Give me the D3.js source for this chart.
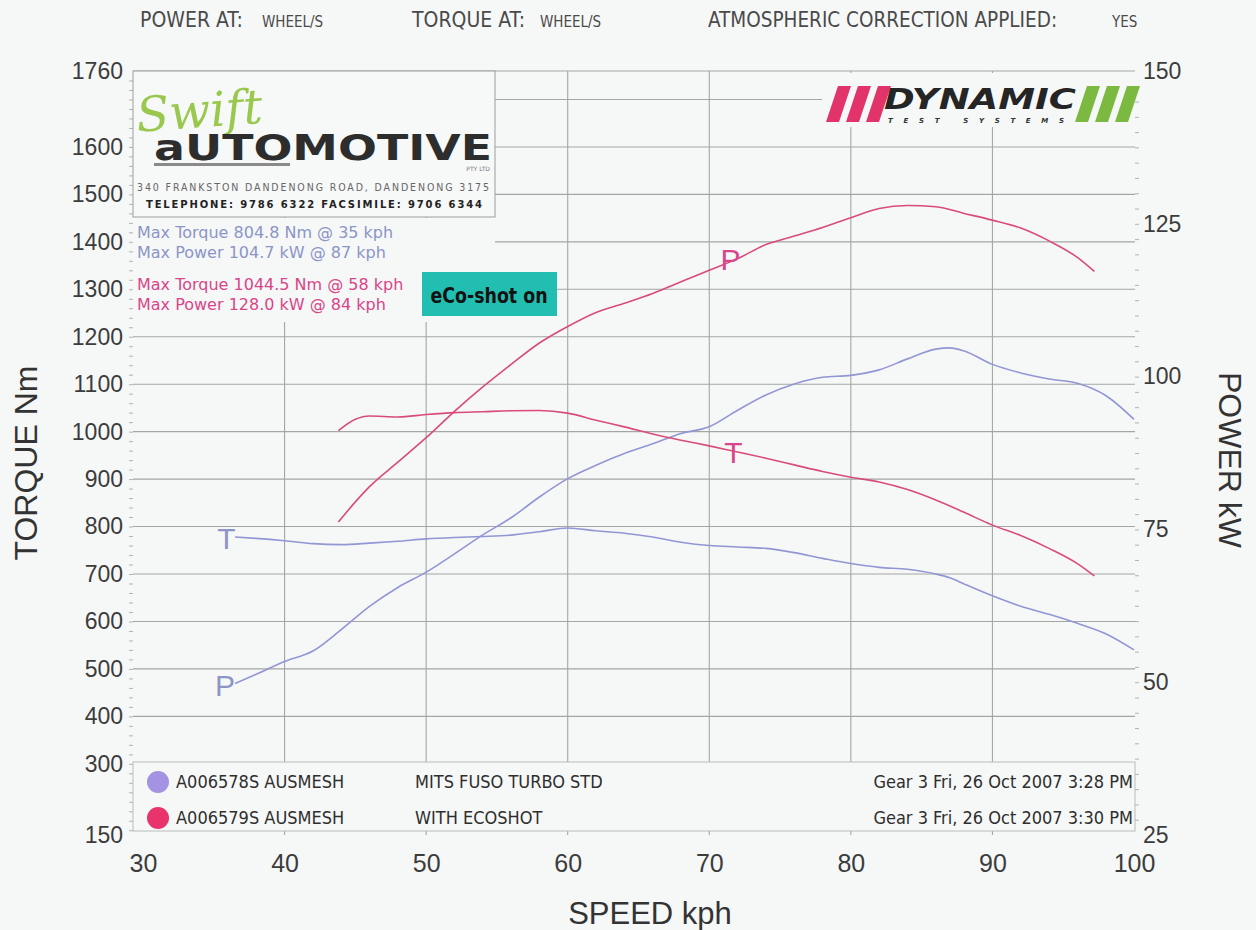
<!DOCTYPE html>
<html>
<head>
<meta charset="utf-8">
<script src="https://cdn.jsdelivr.net/npm/d3@7"></script>
<style>
  body { margin: 0; background: #f6f8f7; }
  svg { display: block; }
</style>
</head>
<body>
<div id="chart"></div>
<script>
// Dyno sheet: speed (kph) against torque (Nm) and power (kW), two runs
const stdSpeed  = [36.5, 38, 40, 42, 44, 46, 48, 50, 52, 54, 56, 58, 60, 62, 64, 66, 68, 70, 72, 74, 76, 78, 80, 82, 84, 86, 87, 88, 90, 92, 94, 96, 98, 100];
const stdTorque = [778, 775, 770, 764, 762, 765, 769, 774, 777, 779, 782, 789, 797, 791, 786, 778, 767, 760, 757, 754, 745, 733, 722, 714, 710, 700, 692, 679, 654, 632, 615, 596, 574, 540];
const stdPower  = [49.8, 51.3, 53.4, 55.1, 58.6, 62.4, 65.5, 68.0, 71.0, 74.1, 76.9, 80.3, 83.3, 85.5, 87.4, 89.0, 90.7, 91.8, 94.5, 97.0, 98.8, 99.9, 100.2, 101.1, 102.9, 104.5, 104.7, 104.2, 102.0, 100.6, 99.6, 98.9, 96.9, 93.0];

const ecoSpeed  = [43.8, 45, 46, 48, 50, 52, 54, 56, 58, 60, 62, 64, 66, 68, 70, 72, 74, 76, 78, 80, 82, 84, 86, 88, 90, 92, 94, 96, 97.2];
const ecoTorque = [1002, 1026, 1033, 1031, 1036, 1040, 1042, 1044, 1044.5, 1039, 1024, 1010, 995, 982, 970, 957, 944, 930, 916, 904, 894, 878, 856, 830, 803, 781, 754, 722, 696];
const ecoPower  = [76.2, 79.5, 82.0, 86.0, 90.0, 94.3, 98.3, 102.0, 105.5, 108.2, 110.5, 112.0, 113.6, 115.5, 117.4, 119.3, 121.6, 123.0, 124.4, 126.0, 127.5, 128.0, 127.8, 126.7, 125.6, 124.3, 122.2, 119.5, 117.2];

const torqueTicks = [150, 300, 400, 500, 600, 700, 800, 900, 1000, 1100, 1200, 1300, 1400, 1500, 1600, 1760];
const powerTicks  = [25, 50, 75, 100, 125, 150];
const speedTicks  = [30, 40, 50, 60, 70, 80, 90, 100];
const torqueGrid  = [200, 300, 400, 500, 600, 700, 800, 900, 1000, 1100, 1200, 1300, 1400, 1500, 1600, 1700, 1760];
const speedGrid   = [40, 50, 60, 70, 80, 90];

const runIds   = ["A006578S AUSMESH", "A006579S AUSMESH"];
const runNotes = ["MITS FUSO TURBO STD", "WITH ECOSHOT"];
const runDates = ["Gear 3 Fri, 26 Oct 2007 3:28 PM", "Gear 3 Fri, 26 Oct 2007 3:30 PM"];
const maxLines = [
  ["Max Torque 804.8 Nm @ 35 kph", "Max Power 104.7 kW @ 87 kph"],
  ["Max Torque 1044.5 Nm @ 58 kph", "Max Power 128.0 kW @ 84 kph"]
];
// curve letters: [speed, value]
const stdLabels = [{t: "T", s: 35.9, v: 776, axis: "T"}, {t: "P", s: 35.8, v: 49.5, axis: "P"}];
const ecoLabels = [{t: "P", s: 71.5, v: 119.3, axis: "P"}, {t: "T", s: 71.7, v: 957, axis: "T"}];

const lineColors  = ["#9296d4", "#d94c78"];
const textColors  = ["#8c95c6", "#d9458a"];
const dotColors   = ["#a493e2", "#e8336c"];

const W = 1256, H = 930;
const left = 133, right = 1135;

const svg = d3.select("#chart").append("svg")
    .attr("width", W)
    .attr("height", H);

svg.append("rect").attr("width", W).attr("height", H).attr("fill", "#f6f8f7");

const x  = d3.scaleLinear().domain([30, 100]).range([143, 1134]);
const yT = d3.scaleLinear().domain([150, 1760]).range([835, 71]);
const yP = d3.scaleLinear().domain([25, 150]).range([835, 71]);

// header
const header = svg.append("g")
    .attr("font-family", "'Liberation Sans Narrow', 'DejaVu Sans Condensed', sans-serif")
    .attr("font-stretch", "condensed")
    .attr("fill", "#4a4a4a");
[["POWER AT:", 140, 21], ["WHEEL/S", 262, 15], ["TORQUE AT:", 412, 21], ["WHEEL/S", 540, 15],
 ["ATMOSPHERIC CORRECTION APPLIED:", 708, 20.5], ["YES", 1112, 15]].forEach(function(h) {
  header.append("text").attr("x", h[1]).attr("y", 27).attr("font-size", h[2]).text(h[0]);
});

// grid
const grid = svg.append("g").attr("stroke", "#a3a6a5").attr("stroke-width", 1.1);
grid.selectAll(".h").data(torqueGrid).enter().append("line")
    .attr("x1", left).attr("x2", right)
    .attr("y1", d => yT(d)).attr("y2", d => yT(d));
grid.selectAll(".v").data(speedGrid).enter().append("line")
    .attr("x1", d => x(d)).attr("x2", d => x(d))
    .attr("y1", yT(1760)).attr("y2", yT(150));

// minor ticks along the axes
svg.append("g").attr("transform", "translate(" + left + ",0)")
    .call(d3.axisLeft(yT).tickValues(d3.range(160, 1760, 20)).tickSize(4).tickFormat(""))
    .call(g => g.select(".domain").remove())
    .selectAll("line").attr("stroke", "#b0b3b2");
svg.append("g").attr("transform", "translate(" + right + ",0)")
    .call(d3.axisRight(yP).tickValues(d3.range(27.5, 150, 2.5)).tickSize(4).tickFormat(""))
    .call(g => g.select(".domain").remove())
    .selectAll("line").attr("stroke", "#b0b3b2");

// axes labels
const yAxisL = svg.append("g").attr("transform", "translate(" + left + ",0)")
    .call(d3.axisLeft(yT).tickValues(torqueTicks).tickFormat(d3.format("d")).tickSize(0).tickPadding(10));
yAxisL.select(".domain").remove();
yAxisL.selectAll("text").attr("font-size", 23).attr("font-family", "'Liberation Sans', Arial, sans-serif").attr("fill", "#3c3c3c");

const yAxisR = svg.append("g").attr("transform", "translate(" + right + ",0)")
    .call(d3.axisRight(yP).tickValues(powerTicks).tickFormat(d3.format("d")).tickSize(0).tickPadding(8));
yAxisR.select(".domain").remove();
yAxisR.selectAll("text").attr("font-size", 23).attr("font-family", "'Liberation Sans', Arial, sans-serif").attr("fill", "#3c3c3c");

const xAxis = svg.append("g").attr("transform", "translate(0," + yT(150) + ")")
    .call(d3.axisBottom(x).tickValues(speedTicks).tickFormat(d3.format("d")).tickSize(0).tickPadding(19));
xAxis.select(".domain").remove();
xAxis.selectAll("text").attr("font-size", 25).attr("font-family", "'Liberation Sans', Arial, sans-serif").attr("fill", "#3c3c3c");

svg.append("text")
    .attr("transform", "translate(37,463) rotate(-90)")
    .attr("text-anchor", "middle")
    .attr("font-family", "'Liberation Sans', Arial, sans-serif")
    .attr("font-size", 32).attr("fill", "#333")
    .text("TORQUE Nm");
svg.append("text")
    .attr("transform", "translate(1219,460) rotate(90)")
    .attr("text-anchor", "middle")
    .attr("font-family", "'Liberation Sans', Arial, sans-serif")
    .attr("font-size", 32).attr("fill", "#333")
    .text("POWER kW");
svg.append("text")
    .attr("x", 650).attr("y", 924)
    .attr("text-anchor", "middle")
    .attr("font-family", "'Liberation Sans', Arial, sans-serif")
    .attr("font-size", 31).attr("fill", "#333")
    .text("SPEED kph");

// Swift Automotive badge
const badge = svg.append("g");
badge.append("rect").attr("x", left).attr("y", 71).attr("width", 362).attr("height", 146)
    .attr("fill", "#f7f8f8").attr("stroke", "#9c9c9c").attr("stroke-width", 1);
badge.append("text").attr("x", 136).attr("y", 128)
    .attr("font-family", "'DejaVu Serif', serif").attr("font-style", "italic")
    .attr("font-size", 48).attr("fill", "#9ac84f").attr("transform", "rotate(-4,190,110)")
    .text("Swift");
badge.append("text").attr("x", 154).attr("y", 160)
    .attr("font-family", "'DejaVu Sans', sans-serif").attr("font-weight", "bold")
    .attr("font-size", 36).attr("fill", "#2d2d2d")
    .attr("textLength", 338).attr("lengthAdjust", "spacingAndGlyphs")
    .text("aUTOMOTIVE");
badge.append("rect").attr("x", 154).attr("y", 163).attr("width", 136).attr("height", 3).attr("fill", "#8a8a8a");
badge.append("text").attr("x", 490).attr("y", 171).attr("text-anchor", "end")
    .attr("font-family", "'DejaVu Sans', sans-serif").attr("font-size", 6).attr("fill", "#777")
    .text("PTY LTD");
badge.append("text").attr("x", 137).attr("y", 191)
    .attr("font-family", "'DejaVu Sans Condensed', sans-serif").attr("font-size", 10.5).attr("fill", "#666")
    .attr("textLength", 352)
    .text("340 FRANKSTON DANDENONG ROAD, DANDENONG 3175");
badge.append("text").attr("x", 146).attr("y", 208)
    .attr("font-family", "'DejaVu Sans', sans-serif").attr("font-weight", "bold").attr("font-size", 10)
    .attr("fill", "#222").attr("textLength", 336)
    .text("TELEPHONE: 9786 6322  FACSIMILE: 9706 6344");

// max values block
const maxBlock = svg.append("g");
maxBlock.append("rect").attr("x", left).attr("y", 218).attr("width", 362).attr("height", 104).attr("fill", "#f6f8f7");
maxLines.forEach(function(pair, i) {
  pair.forEach(function(t, j) {
    maxBlock.append("text")
        .attr("x", 137).attr("y", 238 + i * 52 + j * 20)
        .attr("font-family", "'DejaVu Sans', Verdana, sans-serif")
        .attr("font-size", 16).attr("fill", textColors[i])
        .text(t);
  });
});
maxBlock.append("rect").attr("x", 422).attr("y", 272).attr("width", 135).attr("height", 44).attr("fill", "#22beb1");
maxBlock.append("text").attr("x", 489).attr("y", 303).attr("text-anchor", "middle")
    .attr("font-family", "'DejaVu Sans Condensed', sans-serif").attr("font-weight", "bold")
    .attr("font-size", 21).attr("fill", "#121212")
    .attr("textLength", 117).attr("lengthAdjust", "spacingAndGlyphs")
    .text("eCo-shot on");

// Dynamic Test Systems logo
const dyn = svg.append("g");
dyn.append("rect").attr("x", 822).attr("y", 73).attr("width", 312).attr("height", 54).attr("fill", "#f6f8f7");
function slashes(x0, color) {
  [0, 1, 2].forEach(function(k) {
    const bx = x0 + k * 20;
    dyn.append("polygon")
        .attr("points", [[bx, 122], [bx + 13, 122], [bx + 25, 86], [bx + 12, 86]].map(p => p.join(",")).join(" "))
        .attr("fill", color);
  });
}
slashes(826, "#e2336b");
slashes(1075, "#7cb940");
dyn.append("text").attr("x", 884).attr("y", 109)
    .attr("font-family", "'DejaVu Sans', sans-serif").attr("font-weight", "bold").attr("font-style", "italic")
    .attr("font-size", 29).attr("fill", "#252525")
    .attr("textLength", 192).attr("lengthAdjust", "spacingAndGlyphs")
    .text("DYNAMIC");
dyn.append("text").attr("x", 888).attr("y", 123)
    .attr("font-family", "'DejaVu Sans', sans-serif").attr("font-weight", "bold").attr("font-style", "italic")
    .attr("font-size", 7).attr("fill", "#333")
    .attr("textLength", 176)
    .text("TEST SYSTEMS");

// curves
const lineT = d3.line().x(d => x(d[0])).y(d => yT(d[1])).curve(d3.curveMonotoneX);
const lineP = d3.line().x(d => x(d[0])).y(d => yP(d[1])).curve(d3.curveMonotoneX);

const runs = [
  {speed: stdSpeed, torque: stdTorque, power: stdPower, labels: stdLabels},
  {speed: ecoSpeed, torque: ecoTorque, power: ecoPower, labels: ecoLabels}
];

runs.forEach(function(r, i) {
  svg.append("path")
      .datum(d3.zip(r.speed, r.torque))
      .attr("fill", "none").attr("stroke", lineColors[i]).attr("stroke-width", 1.6)
      .attr("d", lineT);
  svg.append("path")
      .datum(d3.zip(r.speed, r.power))
      .attr("fill", "none").attr("stroke", lineColors[i]).attr("stroke-width", 1.6)
      .attr("d", lineP);
  svg.selectAll(null).data(r.labels).enter().append("text")
      .attr("x", d => x(d.s))
      .attr("y", d => (d.axis === "T" ? yT(d.v) : yP(d.v)) + 11)
      .attr("text-anchor", "middle")
      .attr("font-family", "'Liberation Sans', Arial, sans-serif")
      .attr("font-size", 30).attr("fill", textColors[i])
      .text(d => d.t);
});

// run legend
const legend = svg.append("g");
legend.append("rect").attr("x", left).attr("y", 762).attr("width", right - left).attr("height", 69)
    .attr("fill", "#f6f8f7").attr("stroke", "#b9bcbb").attr("stroke-width", 1);
const rows = legend.selectAll(".row").data(runIds).enter().append("g")
    .attr("transform", (d, i) => "translate(0," + (782 + i * 36) + ")")
    .attr("font-family", "'DejaVu Sans Condensed', sans-serif")
    .attr("font-size", 18).attr("fill", "#2e2e2e");
rows.append("circle").attr("cx", 158).attr("cy", 0).attr("r", 11).attr("fill", (d, i) => dotColors[i]);
rows.append("text").attr("x", 176).attr("y", 6).text(d => d);
rows.append("text").attr("x", 415).attr("y", 6).text((d, i) => runNotes[i]);
rows.append("text").attr("x", 1133).attr("y", 6).attr("text-anchor", "end").text((d, i) => runDates[i]);
</script>
</body>
</html>
